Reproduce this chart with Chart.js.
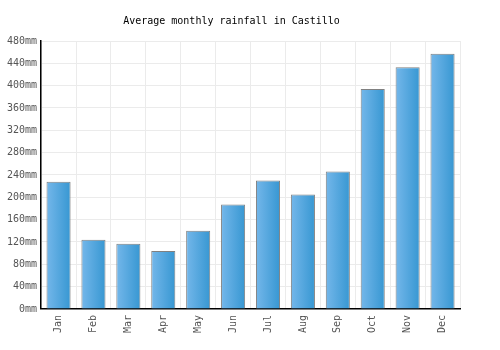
<!DOCTYPE html>
<html>
<head>
<meta charset="utf-8">
<script src="https://cdn.jsdelivr.net/npm/chart.js@4/dist/chart.umd.min.js"></script>
<style>
  html, body { margin: 0; padding: 0; background: #fff; }
  #wrap { width: 500px; height: 350px; }
</style>
</head>
<body>
<div id="wrap"><canvas id="rainChart"></canvas></div>
<script>
// Chart data
const months = ['Jan', 'Feb', 'Mar', 'Apr', 'May', 'Jun', 'Jul', 'Aug', 'Sep', 'Oct', 'Nov', 'Dec'];
const rainfall = [228, 124, 117, 104, 140, 187, 230, 205, 246, 394, 433, 457];
const yTicks = [0, 40, 80, 120, 160, 200, 240, 280, 320, 360, 400, 440, 480];

const monoFont = "'DejaVu Sans Mono', monospace";

// Horizontal gradient across each bar (light left, darker right)
function barGradient(context) {
    const chart = context.chart;
    const xScale = chart.scales.x;
    if (!xScale || context.dataIndex === undefined) return '#4fa3dd';
    const cx = xScale.getPixelForValue(context.dataIndex);
    const half = (xScale.width / months.length) * 0.69 / 2;
    if (!isFinite(cx) || !isFinite(half) || half <= 0) return '#4fa3dd';
    const g = chart.ctx.createLinearGradient(cx - half, 0, cx + half, 0);
    g.addColorStop(0, '#74b7ea');
    g.addColorStop(1, '#3797d2');
    return g;
}

const ctx = document.getElementById('rainChart').getContext('2d');
new Chart(ctx, {
    type: 'bar',
    data: {
        labels: months,
        datasets: [{
            data: rainfall,
            backgroundColor: barGradient,
            borderColor: '#808080',
            borderWidth: 1,
            borderSkipped: 'bottom',
            categoryPercentage: 1,
            barPercentage: 0.69
        }]
    },
    options: {
        responsive: true,
        maintainAspectRatio: false,
        animation: false,
        devicePixelRatio: 1,
        layout: { padding: { left: 3, right: 40, top: 0, bottom: 11 } },
        plugins: {
            legend: { display: false },
            tooltip: { enabled: false },
            title: {
                display: true,
                text: 'Average monthly rainfall in Castillo',
                color: '#000',
                font: { family: monoFont, size: 10, weight: 'normal' },
                padding: { top: 15, bottom: 14 }
            }
        },
        scales: {
            x: {
                grid: { color: '#ebebeb', offset: true, drawTicks: false },
                border: { color: '#000', width: 1.5 },
                ticks: {
                    color: '#555',
                    font: { family: monoFont, size: 10 },
                    maxRotation: 90,
                    minRotation: 90,
                    padding: 6
                }
            },
            y: {
                min: 0,
                max: 480,
                afterBuildTicks: axis => {
                    axis.ticks = yTicks.map(v => ({ value: v }));
                },
                grid: { color: '#ebebeb', drawTicks: false },
                border: { color: '#000', width: 1.5 },
                ticks: {
                    color: '#555',
                    font: { family: monoFont, size: 10 },
                    padding: 4,
                    callback: v => v + 'mm'
                }
            }
        }
    }
});
</script>
</body>
</html>
